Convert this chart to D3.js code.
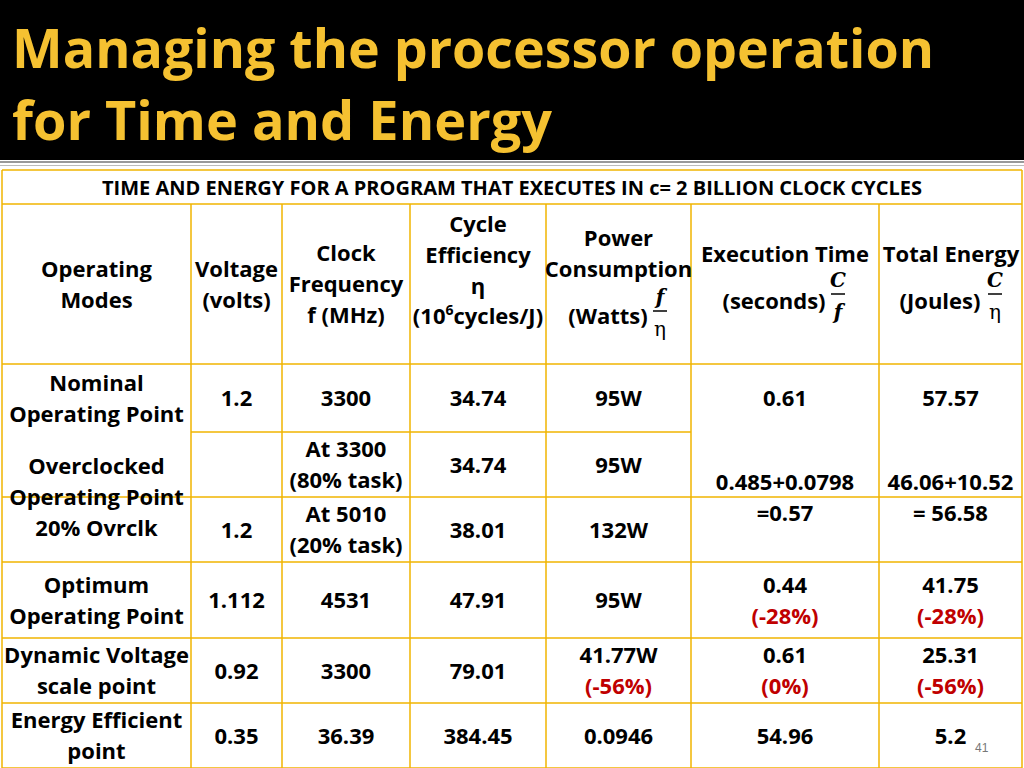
<!DOCTYPE html>
<html><head><meta charset="utf-8">
<script src="https://cdn.jsdelivr.net/npm/d3@7"></script>
<style>body{margin:0;background:#fff}svg{display:block}</style>
</head><body><svg id="c" width="1024" height="768"></svg>
<script>
const titleLines = ["Managing the processor operation", "for Time and Energy"];
const caption = "TIME AND ENERGY FOR A PROGRAM THAT EXECUTES IN c= 2 BILLION CLOCK CYCLES";
const colEdges = [2, 191, 282, 410, 546, 691, 879, 1022];
const rowEdges = [170, 204, 364, 432, 497, 562, 638, 703, 768];
const modes = [["Nominal","Operating Point"],["Overclocked","Operating Point","20% Ovrclk"],["Optimum","Operating Point"],["Dynamic Voltage","scale point"],["Energy Efficient","point"]];
const voltage = ["1.2","","1.2","1.112","0.92","0.35"];
const freq = [["3300"],["At 3300","(80% task)"],["At 5010","(20% task)"],["4531"],["3300"],["36.39"]];
const eff = ["34.74","34.74","38.01","47.91","79.01","384.45"];
const power = [["95W"],["95W"],["132W"],["95W"],["41.77W","(-56%)"],["0.0946"]];
const execTime = [["0.61"],["0.485+0.0798","=0.57"],["0.44","(-28%)"],["0.61","(0%)"],["54.96"]];
const energy = [["57.57"],["46.06+10.52","= 56.58"],["41.75","(-28%)"],["25.31","(-56%)"],["5.2"]];
// mode rows -> sub-row spans
const modeSpan = [[0,1],[1,3],[3,4],[4,5],[5,6]];

const svg = d3.select("#c");
const font = "'Liberation Sans Narrow','Open Sans',sans-serif";
const gold = "#f0b400";
svg.append("rect").attr("width",1024).attr("height",160).attr("fill","#000");
svg.append("rect").attr("y",161).attr("width",1024).attr("height",2).attr("fill","#999");
svg.append("rect").attr("y",165).attr("width",1024).attr("height",1).attr("fill","#bbb");
svg.selectAll("text.title").data(titleLines).join("text")
  .attr("x",12).attr("y",(d,i)=>68+i*72).attr("fill","#f5c131")
  .attr("font-family","'Open Sans',sans-serif").attr("font-weight",700).attr("font-size",54)
  .attr("textLength",(d,i)=>i?540:922).attr("lengthAdjust","spacingAndGlyphs").text(d=>d);

const x = i=>colEdges[i], y = i=>rowEdges[i];
const g = svg.append("g");
function cell(c0,c1,r0,r1,lines,opts={}){
  const cx=(x(c0)+x(c1))/2, cy=(y(r0)+y(r1))/2, lh=opts.lh||31;
  const t=g.append("text").attr("x",cx).attr("text-anchor","middle").attr("font-family",font)
    .attr("font-weight",700).attr("font-size",opts.fs||22).attr("fill","#000");
  lines.forEach((l,i)=>{
    t.append("tspan").attr("x",cx).attr("y",cy+(i-(lines.length-1)/2)*lh+8)
      .attr("fill",(opts.red&&i>0)?"#c00000":"#000").text(l);
  });
}
// borders
const lines=[];
lines.push([x(0),y(0),x(7),y(0)],[x(0),y(1),x(7),y(1)]);
for(let r=2;r<rowEdges.length;r++){
  if(r===3) lines.push([x(1),y(r),x(5),y(r)]);
  else lines.push([x(0),y(r),x(7),y(r)]);
}
lines.push([x(0),y(0),x(0),y(8)],[x(7),y(0),x(7),y(8)]);
for(let c=1;c<7;c++) lines.push([x(c),y(1),x(c),y(8)]);
g.selectAll("line").data(lines).join("line").attr("x1",d=>d[0]).attr("y1",d=>d[1]).attr("x2",d=>d[2]).attr("y2",d=>d[3]).attr("stroke",gold).attr("stroke-width",1.5);

cell(0,7,0,1,[caption],{fs:20});
// headers
cell(0,1,1,2,["Operating","Modes"]);
cell(1,2,1,2,["Voltage","(volts)"]);
cell(2,3,1,2,["Clock","Frequency","f (MHz)"]);
const h4=g.append("text").attr("font-family",font).attr("font-weight",700).attr("font-size",22).attr("text-anchor","middle");
h4.append("tspan").attr("x",478).attr("y",232).text("Cycle");
h4.append("tspan").attr("x",478).attr("y",263).text("Efficiency");
h4.append("tspan").attr("x",478).attr("y",294).text("η");
const t4=h4.append("tspan").attr("x",478).attr("y",324);
t4.text("(10");
h4.append("tspan").attr("dy",-9).attr("font-size",14).text("6");
h4.append("tspan").attr("dy",9).text("cycles/J)");
cell(4,5,1,2,["Power","Consumption"],{});
g.selectAll("text").filter(function(){return d3.select(this).text()==="PowerConsumption"}).selectAll("tspan").attr("y",(d,i)=>[246,277][i]);
function frac(xc,yc,num,den,italic){
  g.append("text").attr("x",xc).attr("y",yc-12).attr("text-anchor","middle").attr("font-family","'DejaVu Serif',serif").attr("font-style",italic?"italic":"normal").attr("font-weight",700).attr("font-size",20).text(num);
  g.append("line").attr("x1",xc-7).attr("x2",xc+7).attr("y1",yc-5).attr("y2",yc-5).attr("stroke","#000").attr("stroke-width",1.5);
  g.append("text").attr("x",xc).attr("y",yc+20).attr("text-anchor","middle").attr("font-family","'DejaVu Serif',serif").attr("font-style",den==="η"?"normal":"italic").attr("font-weight",den==="η"?400:700).attr("font-size",20).text(den);
}
g.append("text").attr("x",608).attr("y",324).attr("text-anchor","middle").attr("font-family",font).attr("font-weight",700).attr("font-size",22).text("(Watts)");
frac(660,316,"f","η",true);
g.append("text").attr("x",785).attr("y",262).attr("text-anchor","middle").attr("font-family",font).attr("font-weight",700).attr("font-size",22).text("Execution Time");
g.append("text").attr("x",774).attr("y",309).attr("text-anchor","middle").attr("font-family",font).attr("font-weight",700).attr("font-size",22).text("(seconds)");
frac(838,299,"C","f",true);
g.append("text").attr("x",951).attr("y",262).attr("text-anchor","middle").attr("font-family",font).attr("font-weight",700).attr("font-size",22).text("Total Energy");
g.append("text").attr("x",940).attr("y",309).attr("text-anchor","middle").attr("font-family",font).attr("font-weight",700).attr("font-size",22).text("(Joules)");
frac(995,299,"C","η",true);

// body rows
modes.forEach((m,i)=>cell(0,1,modeSpan[i][0]+2,modeSpan[i][1]+2,m));
voltage.forEach((v,i)=>{ if(v) cell(1,2,i+2,i+3,[v]); });
freq.forEach((v,i)=>cell(2,3,i+2,i+3,v));
eff.forEach((v,i)=>cell(3,4,i+2,i+3,[v]));
power.forEach((v,i)=>cell(4,5,i+2,i+3,v,{red:true}));
execTime.forEach((v,i)=>cell(5,6,modeSpan[i][0]+2,modeSpan[i][1]+2,v,{red:i>=2}));
energy.forEach((v,i)=>cell(6,7,modeSpan[i][0]+2,modeSpan[i][1]+2,v,{red:i>=2}));
g.append("text").attr("x",975).attr("y",752).attr("font-family","sans-serif").attr("font-size",12).attr("fill","#777").text("41");
</script></body></html>
